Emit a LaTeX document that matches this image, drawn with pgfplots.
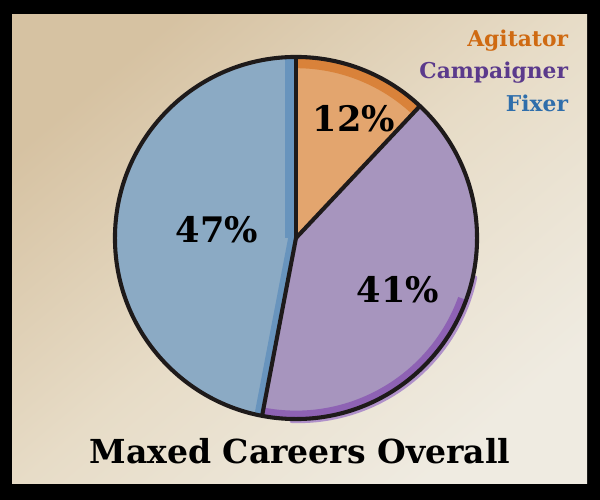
\documentclass[border=0pt]{standalone}
\usepackage{pgfplots}
\pgfplotsset{compat=1.18}
\usepackage{pgfplotstable}
\usepackage{fontspec}
\setmainfont{DejaVu Serif}
\definecolor{agit}{HTML}{E3A56E}
\definecolor{agitdark}{HTML}{D9823A}
\definecolor{agittext}{HTML}{CF6A12}
\definecolor{camp}{HTML}{A795BE}
\definecolor{campdark}{HTML}{8E62B4}
\definecolor{camptext}{HTML}{5B3A8C}
\definecolor{fix}{HTML}{8BAAC4}
\definecolor{fixdark}{HTML}{6894BD}
\definecolor{fixtext}{HTML}{2F6EAB}
\definecolor{paperdark}{HTML}{D6C2A2}
\definecolor{papermid}{HTML}{E7DCC7}
\definecolor{paperlight}{HTML}{EFEBE1}
\definecolor{ink}{HTML}{1E1A1A}

\pgfplotstableread{
label value
Agitator 12
Campaigner 41
Fixer 47
}\piedata
\pgfplotstablegetelem{0}{value}\of\piedata \let\va\pgfplotsretval
\pgfplotstablegetelem{1}{value}\of\piedata \let\vb\pgfplotsretval
\pgfplotstablegetelem{2}{value}\of\piedata \let\vc\pgfplotsretval
\pgfmathsetmacro{\aA}{90}
\pgfmathsetmacro{\aB}{\aA-3.6*\va}
\pgfmathsetmacro{\aC}{\aB-3.6*\vb}
\pgfmathsetmacro{\aD}{\aC-3.6*\vc}
\def\Rad{4.525cm}

\begin{document}
\begin{tikzpicture}
\begin{axis}[x=0.025cm, y=0.025cm, xmin=0, xmax=600, ymin=0, ymax=500,
  hide axis, clip=false]
% frame and paper
\fill[black] (0,0) rectangle (600,500);
\shade[shading=axis, top color=paperdark, bottom color=paperlight, middle color=papermid, shading angle=40] (12,16) rectangle (587,485);
% slices
\fill[agit] (296,262) -- ++(\aA:\Rad) arc[start angle=\aA, end angle=\aB, radius=\Rad] -- cycle;
\fill[camp] (296,262) -- ++(\aB:\Rad) arc[start angle=\aB, end angle=\aC, radius=\Rad] -- cycle;
\fill[fix] (296,262) -- ++(\aC:\Rad) arc[start angle=\aC, end angle=\aD, radius=\Rad] -- cycle;
% watercolour edges
\begin{scope}
\clip (296,262) -- ++(\aA:\Rad) arc[start angle=\aA, end angle=\aB, radius=\Rad] -- cycle;
\draw[agitdark, line width=16pt] (296,262) ++(\aA:\Rad) arc[start angle=\aA, end angle=\aB, radius=\Rad];
\end{scope}
\begin{scope}
\clip (296,262) -- ++(\aB:\Rad) arc[start angle=\aB, end angle=\aC, radius=\Rad] -- cycle;
\draw[campdark, line width=12pt] (296,262) ++(-20:\Rad) arc[start angle=-20, end angle=\aC, radius=\Rad];
\end{scope}
\begin{scope}
\clip (296,262) -- ++(\aC:\Rad) arc[start angle=\aC, end angle=\aD, radius=\Rad] -- cycle;
\draw[fixdark, line width=15pt] (296,262) -- ++(\aD:\Rad);
\draw[fixdark, line width=11pt] (296,262) -- ++(\aC:\Rad);
\end{scope}
\draw[campdark!70, line width=3pt, line cap=round] (298,260) ++(-12:\Rad) arc[start angle=-12, end angle=-92, radius=\Rad];
% ink outline
\draw[ink, line width=2.9pt] (296,262) circle[radius=\Rad];
\draw[ink, line width=2.9pt, line join=round] (296,262) -- ++(\aA:\Rad);
\draw[ink, line width=2.9pt] (296,262) -- ++(\aB:\Rad);
\draw[ink, line width=2.9pt] (296,262) -- ++(\aC:\Rad);
% labels
\node[anchor=base, font=\bfseries\fontsize{25}{29}\selectfont] at (354,368) {12\%};
\node[anchor=base, font=\bfseries\fontsize{25}{29}\selectfont] at (217,257) {47\%};
\node[anchor=base, font=\bfseries\fontsize{25}{29}\selectfont] at (398,197) {41\%};
\node[anchor=base, font=\bfseries\fontsize{23.5}{28}\selectfont] at (300,36) {Maxed Careers Overall};
% legend
\node[anchor=base east, text=agittext, font=\bfseries\fontsize{15.5}{18}\selectfont] at (573,453) {Agitator};
\node[anchor=base east, text=camptext, font=\bfseries\fontsize{15.5}{18}\selectfont] at (573,421) {Campaigner};
\node[anchor=base east, text=fixtext, font=\bfseries\fontsize{15.5}{18}\selectfont] at (573,388) {Fixer};
\end{axis}
\end{tikzpicture}
\end{document}
